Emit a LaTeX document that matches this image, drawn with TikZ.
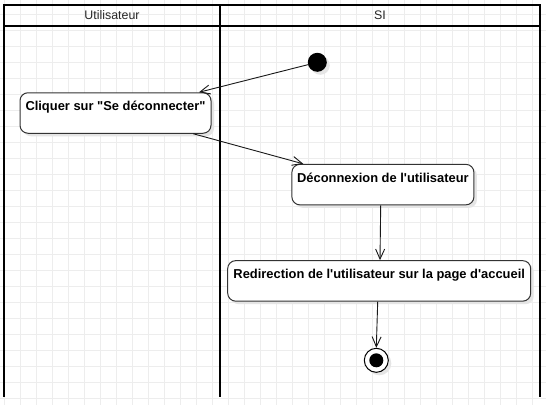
\documentclass[tikz,border=0pt]{standalone}
\usepackage{fontspec}
\setmainfont{Liberation Sans}
\usetikzlibrary{arrows.meta,shadows}
\begin{document}
\begin{tikzpicture}[x=1pt,y=-1pt,
  gridline/.style={draw=black!7,line width=0.9pt},
  lane/.style={draw=black,line width=2pt},
  head/.style={anchor=base,inner sep=0pt,font=\fontsize{12.4}{14}\selectfont,text=black!85},
  act/.style={draw=black!80,line width=1pt,fill=white,rounded corners=8pt,
    inner xsep=0pt,inner ysep=0pt,text height=17.8pt,text depth=22.7pt,
    font=\fontsize{12.9}{15}\selectfont\bfseries,
    drop shadow={shadow xshift=3pt,shadow yshift=-3pt,fill=black!10,opacity=1}},
  flow/.style={draw=black!90,line width=0.9pt,-{Straight Barb[length=10pt,width=9pt,line width=0.9pt]}}
]
\useasboundingbox (0,0) rectangle (546,405);
\fill[white] (0,0) rectangle (546,405);
% grid
\foreach \gx in {4.7,20.7,...,546} \draw[gridline] (\gx,0) -- (\gx,405);
\foreach \gy in {-2,14,...,405} \draw[gridline] (0,\gy) -- (546,\gy);
% swimlanes
\draw[lane] (3.7,397) -- (3.7,4.8) -- (540,4.8) -- (540,397);
\draw[lane] (3.7,25.5) -- (540,25.5);
\draw[lane] (220,4.8) -- (220,397);
\node[head] (hU) at (112,19.3) {Utilisateur};
\node[head] (hS) at (380,19.3) {SI};
% start
\node[circle,fill=black,minimum size=19pt,inner sep=0pt,
  drop shadow={shadow xshift=3pt,shadow yshift=-3pt,fill=black!10,opacity=1}] (start) at (317.3,62.3) {};
% activities
\node[act,minimum width=191pt] (n1) at (115.5,113) {Cliquer sur \textquotedbl Se déconnecter\textquotedbl};
\node[act,minimum width=182pt] (n2) at (382.9,184.6) {Déconnexion de l\textquotesingle utilisateur};
\node[act,minimum width=303pt] (n3) at (379.2,280.9) {Redirection de l\textquotesingle utilisateur sur la page d\textquotesingle accueil};
% end
\node[circle,draw=black,line width=1pt,fill=white,minimum size=24pt,inner sep=0pt,
  drop shadow={shadow xshift=3pt,shadow yshift=-3pt,fill=black!10,opacity=1}] (end) at (376.3,360.3) {};
\node[circle,fill=black,minimum size=14pt,inner sep=0pt] (endin) at (end.center) {};
% flows
\draw[flow] (start) -- ([xshift=83.5pt]n1.north);
\draw[flow] ([xshift=77.8pt]n1.south) -- ([xshift=-79.6pt]n2.north);
\draw[flow] ([xshift=-2.2pt]n2.south) -- ([xshift=0.8pt]n3.north);
\draw[flow] ([xshift=-1.5pt]n3.south) -- (end.north);
\end{tikzpicture}
\end{document}
